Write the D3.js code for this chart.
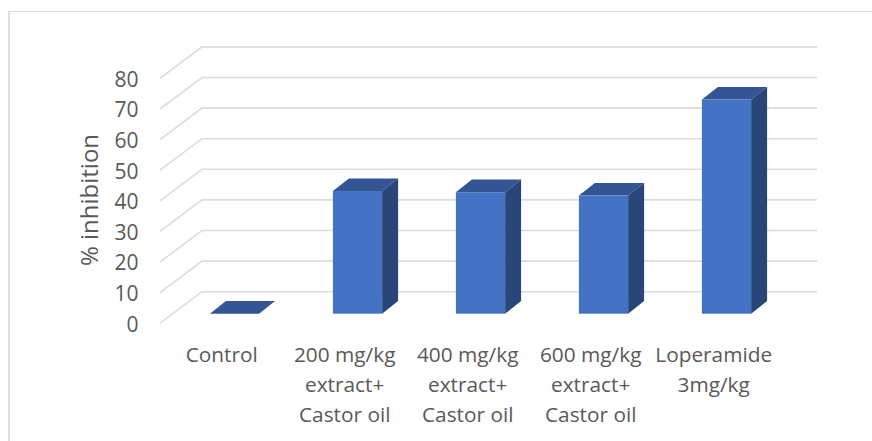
<!DOCTYPE html>
<html><head><meta charset="utf-8">
<script src="https://cdn.jsdelivr.net/npm/d3@7"></script>
<style>html,body{margin:0;padding:0;background:#fff}svg{display:block}text{font-family:"Open Sans",sans-serif;fill:#595959}</style>
</head><body><svg id="c" width="872" height="441"></svg>
<script>
const categories = [["Control"],["200 mg/kg","extract+","Castor oil"],["400 mg/kg","extract+","Castor oil"],["600 mg/kg","extract+","Castor oil"],["Loperamide","3mg/kg"]];
const values = [0,40.1,39.7,38.6,70];
const yTicks = [0,10,20,30,40,50,60,70,80];
const yTitle = "% inhibition";

const svg = d3.select("#c");
const x = d3.scaleBand().domain(d3.range(categories.length)).range([173,788]).paddingInner(0.6).paddingOuter(0.3);
const y = d3.scaleLinear().domain([0,80]).range([313.7,68.9]);
const depth = {wallDx:28, wallDy:-22, floorDx:-14, floorDy:9.5, barDx:16, barDy:-12.6};
const backY = v => y(v)+depth.wallDy;
const rows = values.map((v,i)=>({v,i}));

// chart frame
svg.append("path").attr("d","M9,441V11").attr("fill","none").attr("stroke","#dedede").attr("stroke-width",2);
svg.append("path").attr("d","M8,11.5H872").attr("fill","none").attr("stroke","#d9d9d9").attr("stroke-width",1);

// gridlines
const grid = svg.append("g").attr("fill","none").attr("stroke","#dcdcdc").attr("stroke-width",1.6);
yTicks.forEach(t=>{
  grid.append("path").attr("d",d3.line()([[160,y(t)+depth.floorDy],[202,backY(t)],[817,backY(t)]]));
});

// y labels
svg.append("g").selectAll("text").data(yTicks).join("text")
  .attr("x",138.5).attr("y",t=>y(t)+depth.floorDy+8.3).attr("text-anchor","end").attr("font-size",21).text(t=>t);
svg.append("text").attr("transform","translate(98,200) rotate(-90)").attr("text-anchor","middle").attr("font-size",24).text(yTitle);

// bars
const bars = svg.append("g").selectAll("g").data(rows).join("g");
bars.append("path").attr("fill","#335593").attr("d",d=>{
  const a=x(d.i),b=a+x.bandwidth(),t=y(d.v);
  return d3.line()([[a,t],[a+depth.barDx,t+depth.barDy],[b+depth.barDx,t+depth.barDy],[b,t]])+"Z";
});
bars.filter(d=>d.v>0).append("path").attr("fill","#2a4678").attr("d",d=>{
  const b=x(d.i)+x.bandwidth(),t=y(d.v),z=y(0);
  return d3.line()([[b,t],[b+depth.barDx,t+depth.barDy],[b+depth.barDx,z+depth.barDy],[b,z]])+"Z";
});
bars.filter(d=>d.v>0).append("rect").attr("fill","#4472c4")
  .attr("x",d=>x(d.i)).attr("width",x.bandwidth()).attr("y",d=>y(d.v)).attr("height",d=>y(0)-y(d.v));

// category labels
const lab = svg.append("g").selectAll("text").data(categories).join("text")
  .attr("text-anchor","middle").attr("font-size",20.8)
  .attr("transform",(d,i)=>`translate(${x(i)+x.bandwidth()/2-12.8},362)`);
lab.selectAll("tspan").data(d=>d).join("tspan").attr("x",0).attr("dy",(d,i)=>i?30:0).text(d=>d);
</script></body></html>
